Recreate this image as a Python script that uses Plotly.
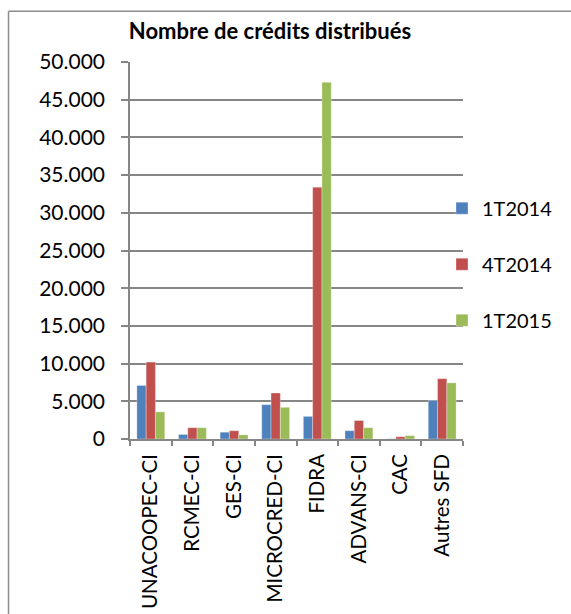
import plotly.graph_objects as go

categories = ["UNACOOPEC-CI", "RCMEC-CI", "GES-CI", "MICROCRED-CI", "FIDRA", "ADVANS-CI", "CAC", "Autres SFD"]
t1_2014 = [7100, 600, 900, 4550, 3000, 1100, 30, 5100]
t4_2014 = [10200, 1500, 1100, 6100, 33400, 2450, 300, 8000]
t1_2015 = [3600, 1500, 550, 4200, 47300, 1500, 450, 7450]
series_names = ["1T2014", "4T2014", "1T2015"]
colors = ["#4F81BD", "#C0504D", "#9BBB59"]
y_ticks = [0, 5000, 10000, 15000, 20000, 25000, 30000, 35000, 40000, 45000, 50000]
y_tick_labels = ["0", "5.000", "10.000", "15.000", "20.000", "25.000", "30.000", "35.000", "40.000", "45.000", "50.000"]

FONT = "Lato, 'Open Sans', sans-serif"

fig = go.Figure()
for i, (name, vals) in enumerate(zip(series_names, [t1_2014, t4_2014, t1_2015])):
    fig.add_trace(go.Bar(
        x=categories, y=vals, name=name, legendgroup=name,
        marker=dict(color=colors[i], line=dict(width=0.5, color="rgba(255,255,255,0.6)")),
    ))

# page is rendered with zero body margin (see post_script)
OFF = 0
FW, FH = 571, 614
# plot area geometry (page px)
L, R, T, B = 130, 463, 62.3, 439.3
W, H = R - L, B - T

def px_x(px):
    return (px - L) / W

def px_y(py):
    return (B - py) / H

fig.add_shape(type="line", xref="paper", yref="paper",
              x0=px_x(8.5), x1=px_x(8.5), y0=px_y(11.5), y1=px_y(700),
              line=dict(color="#8C8C8C", width=1.5))
fig.add_shape(type="line", xref="paper", yref="paper",
              x0=px_x(8.5), x1=px_x(650), y0=px_y(11.5), y1=px_y(11.5),
              line=dict(color="#8C8C8C", width=1.5))

fig.update_layout(
    width=FW, height=FH,
    margin=dict(l=L - OFF, r=FW - (R - OFF), t=T - OFF, b=FH - (B - OFF), autoexpand=False),
    paper_bgcolor="white", plot_bgcolor="white",
    barmode="group", bargap=0.33, bargroupgap=0,
    font=dict(family=FONT, color="black", size=20),
    title=dict(text="<b>Nombre de crédits distribués</b>", x=(270 - OFF) / FW, xanchor="center",
               y=1 - (31 - OFF) / FH, yanchor="middle", font=dict(size=22, family=FONT)),
    legend=dict(x=px_x(442), xanchor="left", y=px_y(189), yanchor="top",
                tracegroupgap=27, font=dict(size=20, family=FONT),
                bgcolor="rgba(0,0,0,0)"),
    showlegend=True,
)
fig.update_xaxes(
    showline=True, linecolor="#868686", linewidth=1.5,
    ticks="outside", tickson="boundaries", ticklen=5, tickcolor="#868686", tickwidth=1.5,
    tickangle=-90, tickfont=dict(size=20.5, family=FONT), ticklabelstandoff=5,
    showgrid=False, automargin=False,
)
fig.update_yaxes(
    range=[0, 50000], tickvals=y_ticks, ticktext=y_tick_labels,
    showline=True, linecolor="#868686", linewidth=1.5,
    ticks="outside", ticklen=7, tickcolor="#868686", tickwidth=1.5,
    showgrid=True, gridcolor="#868686", gridwidth=1.5,
    tickfont=dict(size=21, family=FONT), ticklabelstandoff=12, zeroline=False,
    automargin=False,
)

fig.write_html(
    "out.html",
    config={"displayModeBar": False},
    post_script=(
        "document.body.style.margin='0';"
        "document.body.style.overflow='hidden';"
        "document.documentElement.style.overflow='hidden';"
    ),
)
